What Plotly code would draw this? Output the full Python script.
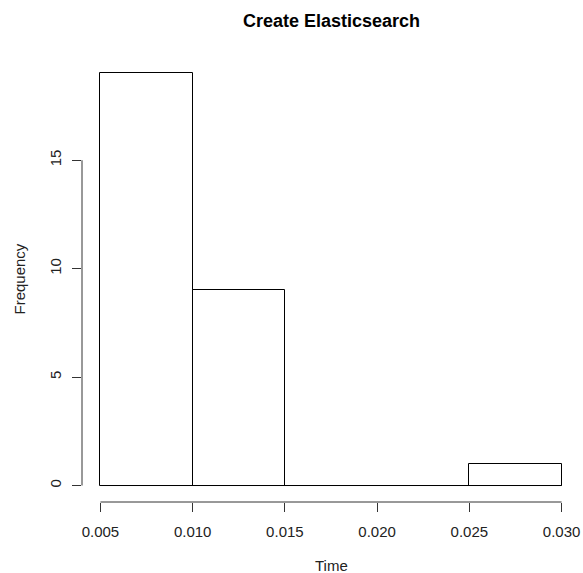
import plotly.graph_objects as go

# Data
bin_edges = [0.005, 0.010, 0.015, 0.020, 0.025, 0.030]
counts = [19, 9, 0, 0, 1]
x_ticks = [0.005, 0.010, 0.015, 0.020, 0.025, 0.030]
x_tick_labels = ["0.005", "0.010", "0.015", "0.020", "0.025", "0.030"]
y_ticks = [0, 5, 10, 15]
y_tick_labels = ["0", "5", "10", "15"]

W, H = 583, 573
FONT = "Liberation Sans, Arial, sans-serif"
TXT = "#222222"

lefts = bin_edges[:-1]
widths = [bin_edges[i + 1] - bin_edges[i] for i in range(len(counts))]

fig = go.Figure()
fig.add_trace(go.Bar(
    x=lefts, y=counts, width=widths, offset=0,
    marker=dict(color="white", line=dict(color="black", width=1)),
    hoverinfo="x+y", showlegend=False,
))
# baseline for zero-height bins (R draws flat rectangles)
fig.add_trace(go.Scatter(
    x=[bin_edges[0], bin_edges[-1]], y=[0, 0], mode="lines",
    line=dict(color="black", width=1), showlegend=False, hoverinfo="skip",
))

xr = bin_edges[-1] - bin_edges[0]
ymax = max(counts)
x_range = [bin_edges[0] - 0.04 * xr, bin_edges[-1] + 0.04 * xr]
y_range = [-0.04 * ymax, ymax * 1.04]

fig.update_layout(
    width=W, height=H,
    margin=dict(l=81.5, r=2.5, t=57, b=70.5),
    paper_bgcolor="white", plot_bgcolor="white",
    font=dict(family=FONT, size=15, color=TXT),
    bargap=0,
    xaxis=dict(
        range=x_range, showgrid=False, zeroline=False, showline=False,
        tickmode="array", tickvals=x_ticks, ticktext=x_tick_labels,
        ticks="outside", ticklen=9, tickwidth=1, tickcolor="#333",
        ticklabelstandoff=7,
        tickfont=dict(family=FONT, size=15, color=TXT),
    ),
    yaxis=dict(
        range=y_range, showgrid=False, zeroline=False, showline=False,
        tickmode="array", tickvals=y_ticks, ticktext=y_tick_labels,
        ticks="outside", ticklen=9, tickwidth=1, tickcolor="#333",
        tickangle=-90, ticklabelstandoff=5,
        tickfont=dict(family=FONT, size=15, color=TXT),
    ),
    shapes=[
        dict(type="line", xref="paper", yref="y", x0=0, x1=0,
             y0=min(y_ticks), y1=max(y_ticks), line=dict(color="#333", width=1)),
        dict(type="line", xref="x", yref="paper", y0=0, y1=0,
             x0=min(x_ticks), x1=max(x_ticks), line=dict(color="#333", width=1)),
    ],
    annotations=[
        dict(text="<b>Create Elasticsearch</b>", xref="paper", yref="paper",
             x=0.5, y=1, yshift=24, xanchor="center", yanchor="bottom",
             showarrow=False, font=dict(family=FONT, size=18, color="black")),
        dict(text="Time", xref="paper", yref="paper", x=0.5, y=0,
             yshift=-53, xanchor="center", yanchor="top",
             showarrow=False, font=dict(family=FONT, size=15, color=TXT)),
        dict(text="Frequency", xref="paper", yref="paper", x=0, y=0.5,
             xshift=-63, xanchor="center", yanchor="middle", textangle=-90,
             showarrow=False, font=dict(family=FONT, size=15, color=TXT)),
    ],
)

fig.write_html("out.html")
